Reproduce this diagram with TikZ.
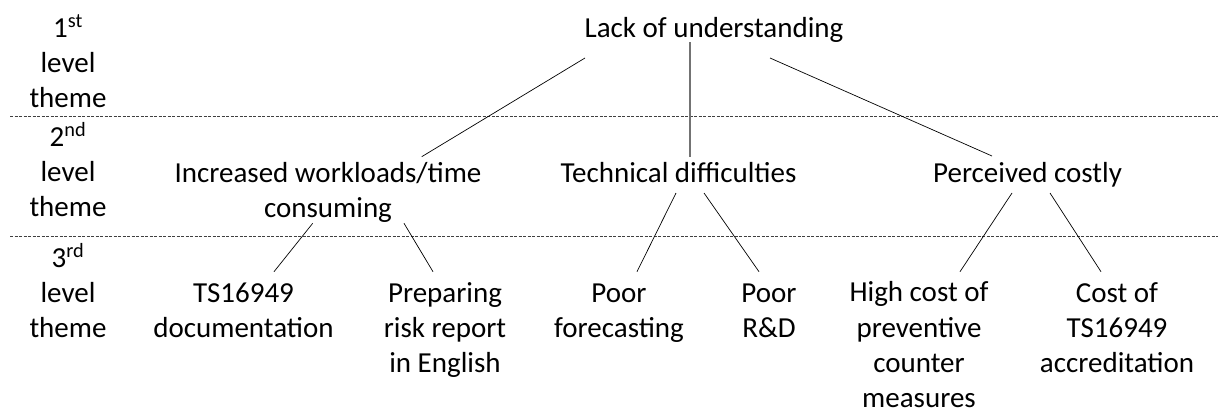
\documentclass[tikz,border=0pt]{standalone}
\usepackage{fontspec}
\setmainfont{Carlito}
\begin{document}
\begin{tikzpicture}[x=1pt,y=-1pt,
  themebox/.style={anchor=base,align=center,inner sep=0pt,font=\fontsize{29}{35.3}\selectfont},
  link/.style={line width=0.7pt},
  trunk/.style={line width=1.2pt,black!55},
  divider/.style={line width=0.8pt,black!75,dash pattern=on 3pt off 1.5pt}]
\useasboundingbox (0,0) rectangle (1218,410);
% level labels (base = last line)
\node[themebox] (lvlA) at (68,107.6) {1\textsuperscript{st}\\level\\theme};
\node[themebox] (lvlB) at (68,216.6) {2\textsuperscript{nd}\\level\\theme};
\node[themebox] (lvlC) at (68,337.6) {3\textsuperscript{rd}\\level\\theme};
\draw[divider] (10,116.5) -- (1218,116.5);
\draw[divider] (10,236.5) -- (1218,236.5);
% themes
\node[themebox] (lack) at (714,37) {Lack of understanding};
\node[themebox] (incr) at (328,217.3) {Increased workloads/time\\consuming};
\node[themebox] (tech) at (678.5,182) {Technical difficulties};
\node[themebox] (perc) at (1027.5,182) {Perceived costly};
\node[themebox] (ts) at (243.5,337.3) {TS16949\\documentation};
\node[themebox] (prep) at (445,372.6) {Preparing\\risk report\\in English};
\node[themebox] (fore) at (619,337.3) {Poor\\forecasting};
\node[themebox] (rnd) at (769,337.3) {Poor\\R\&D};
\node[themebox] (high) at (919,407.6) {High cost of\\preventive\\counter\\measures};
\node[themebox] (cost) at (1117,372.6) {Cost of\\TS16949\\accreditation};
% links
\draw[link] ([xshift=-129pt,yshift=-21pt]lack.base) -- ([xshift=93.7pt,yshift=60.6pt]incr.base);
\draw[trunk] ([xshift=-24pt,yshift=-5pt]lack.base) -- ([xshift=11.5pt,yshift=25.3pt]tech.base);
\draw[link] ([xshift=56pt,yshift=-21pt]lack.base) -- ([xshift=-35.5pt,yshift=26pt]perc.base);
\draw[link] ([xshift=-15.3pt,yshift=-6pt]incr.base) -- ([xshift=30.5pt,yshift=65.6pt]ts.base);
\draw[link] ([xshift=76pt,yshift=-6pt]incr.base) -- ([xshift=-12pt,yshift=100.9pt]prep.base);
\draw[link] ([xshift=-2.5pt,yshift=-11pt]tech.base) -- ([xshift=18pt,yshift=65.6pt]fore.base);
\draw[link] ([xshift=25.5pt,yshift=-11pt]tech.base) -- ([xshift=-10pt,yshift=65.6pt]rnd.base);
\draw[link] ([xshift=-15.5pt,yshift=-11pt]perc.base) -- ([xshift=41pt,yshift=135.9pt]high.base);
\draw[link] ([xshift=22.5pt,yshift=-11pt]perc.base) -- ([xshift=-16pt,yshift=100.9pt]cost.base);
\end{tikzpicture}
\end{document}
